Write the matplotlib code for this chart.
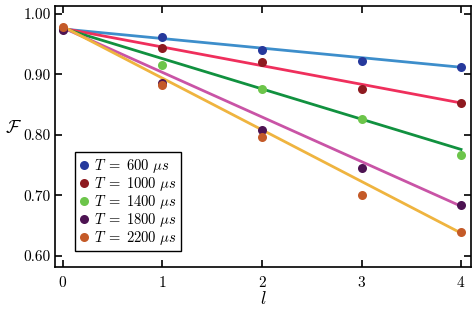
import numpy as np
import matplotlib
matplotlib.use('Agg')
import matplotlib.pyplot as plt

plt.rcParams['font.family'] = 'serif'
plt.rcParams['font.serif'] = ['cmr10', 'DejaVu Serif']
plt.rcParams['mathtext.fontset'] = 'cm'
plt.rcParams['axes.formatter.use_mathtext'] = True

# data
l_vals = [0, 1, 2, 3, 4]
durations = [600, 1000, 1400, 1800, 2200]
fid_600 = [0.975, 0.962, 0.941, 0.922, 0.913]
fid_1000 = [0.975, 0.943, 0.921, 0.876, 0.852]
fid_1400 = [0.975, 0.915, 0.876, 0.826, 0.767]
fid_1800 = [0.974, 0.886, 0.808, 0.745, 0.685]
fid_2200 = [0.979, 0.883, 0.797, 0.700, 0.640]
# linear fits (intercept, slope) as drawn
fit_intercepts = [0.975, 0.976, 0.976, 0.977, 0.979]
fit_slopes = [-0.0158, -0.0308, -0.0500, -0.0737, -0.0853]

y_ticks = [0.60, 0.70, 0.80, 0.90, 1.00]
x_ticks = [0, 1, 2, 3, 4]

line_colors = ['#3d8ecb', '#ef2f5c', '#11913f', '#c954a6', '#efb43f']
dot_colors = ['#26399c', '#8e1a20', '#6cc54a', '#4d1352', '#c45a28']
series = [fid_600, fid_1000, fid_1400, fid_1800, fid_2200]

fig = plt.figure(figsize=(4.76, 3.09), dpi=100)
ax = fig.add_axes([0.1155, 0.136, 0.874, 0.845])

xs = np.array([l_vals[0], l_vals[-1]])
for i in range(len(series)):
    ax.plot(xs, fit_intercepts[i] + fit_slopes[i] * xs, color=line_colors[i], lw=2.0, zorder=2)
for i in range(len(series)):
    ax.plot(l_vals, series[i], 'o', color=dot_colors[i], ms=6.5, mec='none', zorder=3,
            label=r'$T\;=\;%d\ \mu s$' % durations[i])

ax.set_xlim(-0.08, 4.10)
ax.set_ylim(0.5818, 1.0132)
ax.set_xticks(x_ticks)
ax.set_yticks(y_ticks)
ax.set_yticklabels(['%.2f' % v for v in y_ticks])
ax.tick_params(direction='in', top=True, right=True, length=5, width=1.2, labelsize=11)
ax.tick_params(axis='y', pad=3)
ax.tick_params(axis='x', pad=6)
for s in ax.spines.values():
    s.set_linewidth(1.2)

ax.set_xlabel(r'$l$', fontsize=13, labelpad=0)
ax.set_ylabel(r'$\mathcal{F}$', fontsize=13, rotation=0, labelpad=2)
ax.yaxis.set_label_coords(-0.1, 0.5)

leg = ax.legend(loc='lower left', bbox_to_anchor=(0.048, 0.061), borderaxespad=0,
                fontsize=10.5, handlelength=0.6, handletextpad=0.4, labelspacing=0.0,
                borderpad=0.3, fancybox=False, framealpha=1, edgecolor='black')
leg.get_frame().set_linewidth(1.0)

plt.savefig('out.png', dpi=100)
